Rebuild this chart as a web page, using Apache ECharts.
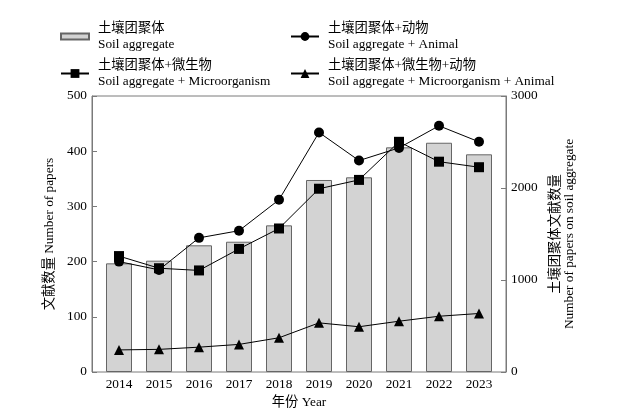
<!DOCTYPE html>
<html><head><meta charset="utf-8">
<script src="https://cdn.jsdelivr.net/npm/echarts@6/dist/echarts.min.js"></script>
<style>html,body{margin:0;padding:0;background:#fff}#c{width:641px;height:417px}</style>
</head><body><div id="c"></div>
<script>
const years = ['2014','2015','2016','2017','2018','2019','2020','2021','2022','2023'];
const soilAggregate = [1181, 1210, 1377, 1416, 1594, 2087, 2116, 2442, 2492, 2366];
const withAnimal = [200, 185, 243, 256, 312, 434, 383, 406, 446, 417];
const withMicro = [210, 188, 184, 223, 260, 332, 348, 417, 381, 371];
const withMicroAnimal = [40, 41, 45, 50, 62, 89, 82, 92, 101, 106];
const names = {
  bar: '土壤团聚体\nSoil aggregate',
  animal: '土壤团聚体+动物\nSoil aggregate + Animal',
  micro: '土壤团聚体+微生物\nSoil aggregate + Microorganism',
  both: '土壤团聚体+微生物+动物\nSoil aggregate + Microorganism + Animal'
};
const FONT = '"Liberation Serif", "Noto Sans CJK SC", serif';
const AX = '#7a7a7a';
const FS = 13.3;
const chart = echarts.init(document.getElementById('c'), null, {renderer: 'canvas'});
const legendBase = {
  itemWidth: 28, itemGap: 0, padding: 0,
  textStyle: {fontFamily: FONT, fontSize: FS, color: '#000', lineHeight: 16.5, padding: [0, 0, 0, 4]},
  selectedMode: false
};
const lineBase = {
  type: 'line', xAxisIndex: 1, yAxisIndex: 1, symbolSize: 10,
  lineStyle: {color: '#000', width: 1},
  itemStyle: {color: '#000'},
  z: 3
};
chart.setOption({
  animation: false,
  textStyle: {fontFamily: FONT},
  legend: [
    Object.assign({}, legendBase, {left: 60, top: 20, data: [{name: names.bar, icon: 'rect'}], itemHeight: 6}),
    Object.assign({}, legendBase, {left: 290, top: 20, data: [names.animal], itemHeight: 11}),
    Object.assign({}, legendBase, {left: 60, top: 57, data: [names.micro], itemHeight: 11}),
    Object.assign({}, legendBase, {left: 290, top: 57, data: [names.both], itemHeight: 11})
  ],
  grid: [
    {left: 92, right: 135, top: 96, bottom: 45, show: true, borderColor: AX, borderWidth: 1},
    {left: 99, right: 142, top: 96, bottom: 45}
  ],
  xAxis: [
    {type: 'value', gridIndex: 0, show: false, min: 0, max: 1},
    {
      type: 'category', gridIndex: 1, data: years,
      name: '年份 Year', nameLocation: 'middle', nameGap: 23,
      nameTextStyle: {fontFamily: FONT, fontSize: FS, color: '#000'},
      axisLine: {show: false},
      axisTick: {inside: true, alignWithLabel: true, length: 4, lineStyle: {color: AX}},
      axisLabel: {fontFamily: FONT, fontSize: FS, color: '#000', margin: 6}
    }
  ],
  yAxis: [
    {type: 'value', gridIndex: 0, show: false, min: 0, max: 1},
    {
      type: 'value', gridIndex: 1, min: 0, max: 500, interval: 100, offset: 7,
      name: '文献数量 Number of papers', nameLocation: 'middle', nameGap: 29, nameRotate: 90,
      nameTextStyle: {fontFamily: FONT, fontSize: FS, color: '#000'},
      axisLine: {show: true, lineStyle: {color: AX}},
      axisTick: {show: true, inside: true, length: 5, lineStyle: {color: AX}},
      axisLabel: {fontFamily: FONT, fontSize: FS, color: '#000', margin: 5},
      splitLine: {show: false}
    },
    {
      type: 'value', gridIndex: 1, min: 0, max: 3000, interval: 1000, position: 'right', offset: 7,
      name: '土壤团聚体文献数量\nNumber of papers on soil aggregate', nameLocation: 'middle', nameGap: 43, nameRotate: 90,
      nameTextStyle: {fontFamily: FONT, fontSize: FS, color: '#000', lineHeight: 13.5},
      axisLine: {show: true, lineStyle: {color: AX}},
      axisTick: {show: true, inside: true, length: 5, lineStyle: {color: AX}},
      axisLabel: {fontFamily: FONT, fontSize: FS, color: '#000', margin: 5, formatter: v => String(v)},
      splitLine: {show: false}
    }
  ],
  series: [
    {
      name: names.bar, type: 'bar', xAxisIndex: 1, yAxisIndex: 2, data: soilAggregate, barWidth: 26,
      itemStyle: {color: '#d3d3d3', borderColor: '#666', borderWidth: 1}, z: 1
    },
    Object.assign({}, lineBase, {name: names.animal, data: withAnimal, symbol: 'circle'}),
    Object.assign({}, lineBase, {name: names.micro, data: withMicro, symbol: 'rect'}),
    Object.assign({}, lineBase, {name: names.both, data: withMicroAnimal, symbol: 'triangle'})
  ]
});
</script></body></html>
